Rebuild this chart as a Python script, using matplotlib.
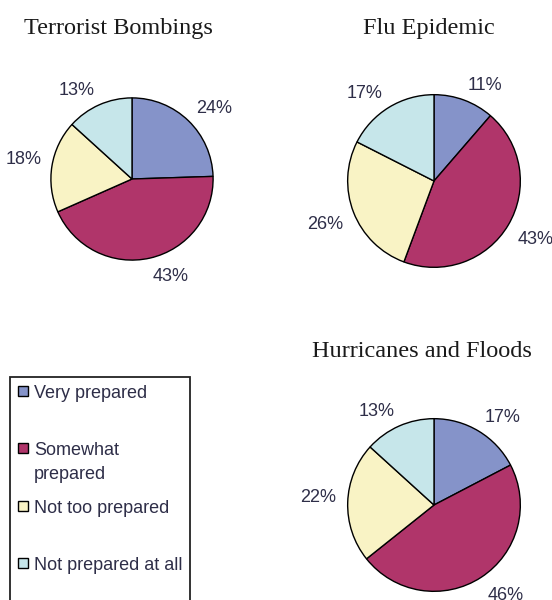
import matplotlib.pyplot as plt
import matplotlib.patches as mpatches
from matplotlib.legend_handler import HandlerPatch

categories = ["Very prepared", "Somewhat\nprepared", "Not too prepared", "Not prepared at all"]
colors = ["#8593c9", "#b0356a", "#f9f3c5", "#c6e6ea"]

titles = ["Terrorist Bombings", "Flu Epidemic", "Hurricanes and Floods"]
terrorist = [24, 43, 18, 13]
flu = [11, 43, 26, 17]
hurricanes = [17, 46, 22, 13]

W, H = 552, 600
fig = plt.figure(figsize=(W / 100, H / 100), dpi=100)

label_color = "#2e2e48"
FS = 13
AX = 218  # axes box in px (pie radius 1 -> AX/2.5 px)

# (data, pie centre px, radius, title centre x, title baseline y)
charts = [
    (terrorist, (132, 179), 0.93, 118, 34),
    (flu, (434, 181), 0.99, 429, 34),
    (hurricanes, (434, 505), 0.99, 422, 357),
]

for (vals, (cx, cy), r, tx, ty), title in zip(charts, titles):
    ax = fig.add_axes([(cx - AX / 2) / W, 1 - (cy + AX / 2) / H, AX / W, AX / H])
    wedges, texts = ax.pie(vals, colors=colors, startangle=90, counterclock=False,
                           radius=r, labels=[f"{v}%" for v in vals], labeldistance=1.13,
                           wedgeprops=dict(edgecolor="black", linewidth=1.0),
                           textprops=dict(fontsize=FS, color=label_color,
                                          family="Liberation Sans"))
    # Excel-style outside labels: the corner of the label touches the anchor
    for t in texts:
        t.set_va("baseline" if t.get_position()[1] > 0 else "top")
    fig.text(tx / W, 1 - ty / H, title, ha="center", va="baseline",
             fontsize=17.5, family="Liberation Serif", color="#1a1a1a")

# legend: marker sits next to the first line of each entry
LINESP = 1.5
step = 0.855 * FS * LINESP - 5.6


def top_square(legend, orig_handle, xdescent, ydescent, width, height, fontsize):
    s = 7.4
    return mpatches.Rectangle((-xdescent + (width - s) / 2, step), s, s)


handles = [mpatches.Patch(facecolor=c, edgecolor="black", linewidth=1.0) for c in colors]
labels = [c if "\n" in c else c + "\n" for c in categories]
leg = fig.legend(handles, labels, loc="upper left", bbox_to_anchor=(10 / W, 1 - 377 / H),
                 borderaxespad=0, borderpad=0.42, labelspacing=0.94,
                 handlelength=0.6, handletextpad=0.32,
                 handler_map={mpatches.Patch: HandlerPatch(patch_func=top_square)},
                 fancybox=False, framealpha=1, edgecolor="#222222",
                 prop=dict(family="Liberation Sans", size=FS))
leg.get_frame().set_linewidth(1.3)
for t in leg.get_texts():
    t.set_color(label_color)
    t.set_linespacing(LINESP)

fig.savefig("out.png", dpi=100)
